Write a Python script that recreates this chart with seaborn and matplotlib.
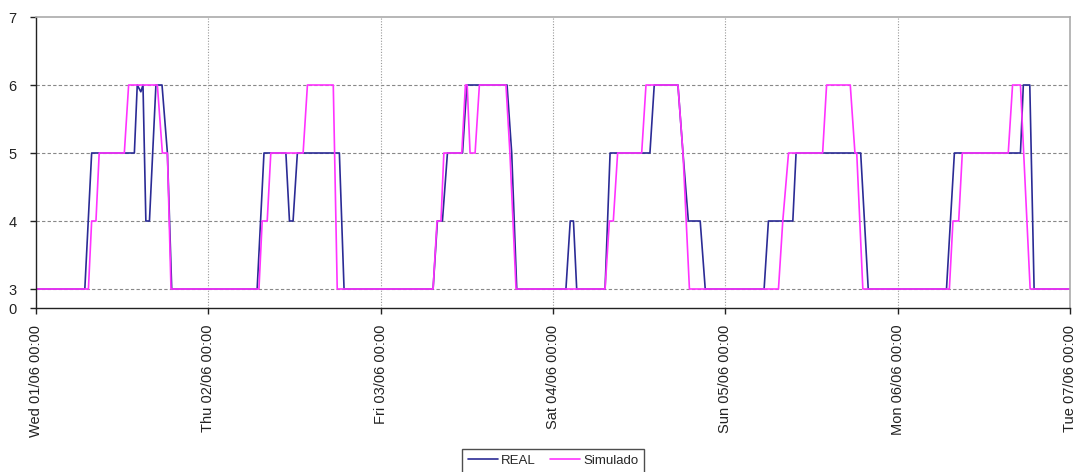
import pandas as pd
import matplotlib
matplotlib.use("Agg")
import matplotlib.pyplot as plt
import seaborn as sns

# horas desde Wed 01/06 00:00 e nivel
horas_real = [0, 6.8, 7.75, 13.7, 14.1, 14.6, 14.9, 15.3, 15.8, 16.7, 17.55, 18.3, 18.9,
              30.8, 31.75, 34.8, 35.3, 35.8, 36.4, 42.25, 42.9,
              55.3, 55.9, 56.6, 57.3, 59.4, 60.0, 65.6, 66.25, 66.95,
              73.8, 74.4, 74.85, 75.3, 79.25, 79.95, 85.5, 86.1, 89.4, 90.1, 90.85, 92.5, 93.2,
              101.4, 102.0, 105.4, 105.85, 114.85, 115.9,
              126.8, 127.9, 137.1, 137.5, 138.4, 139.0, 144]
nivel_real = [3, 3, 5, 5, 6, 5.9, 6, 4, 4, 6, 6, 5, 3,
              3, 5, 5, 4, 4, 5, 5, 3,
              3, 4, 4, 5, 5, 6, 6, 5, 3,
              3, 4, 4, 3, 3, 5, 5, 6, 6, 5, 4, 4, 3,
              3, 4, 4, 5, 5, 3,
              3, 5, 5, 6, 6, 3, 3]

horas_sim = [0, 7.3, 7.75, 8.35, 8.8, 12.3, 12.9, 16.9, 17.6, 18.3, 18.8,
             31.05, 31.5, 32.2, 32.7, 37.2, 37.8, 41.4, 41.95,
             55.3, 55.85, 56.4, 56.8, 59.3, 59.8, 60.05, 60.45, 61.15, 61.75, 65.45, 66.0, 66.85,
             79.25, 79.85, 80.4, 81.0, 84.35, 84.95, 89.4, 90.1, 91.0,
             103.4, 104.0, 104.8, 109.55, 110.1, 113.4, 114.05, 114.3, 115.15,
             127.2, 127.7, 128.5, 129.0, 135.4, 136.0, 137.1, 138.45, 144]
nivel_sim = [3, 3, 4, 4, 5, 5, 6, 6, 5, 5, 3,
             3, 4, 4, 5, 5, 6, 6, 3,
             3, 4, 4, 5, 5, 6, 6, 5, 5, 6, 6, 5, 3,
             3, 4, 4, 5, 5, 6, 6, 5, 3,
             3, 4, 5, 5, 6, 6, 5, 5, 3,
             3, 4, 4, 5, 5, 6, 6, 3, 3]

dias = ["Wed 01/06 00:00", "Thu 02/06 00:00", "Fri 03/06 00:00", "Sat 04/06 00:00",
        "Sun 05/06 00:00", "Mon 06/06 00:00", "Tue 07/06 00:00"]
ticks_y = [3, 4, 5, 6, 7]

dados = pd.concat([
    pd.DataFrame({"hora": horas_real, "nivel": nivel_real, "serie": "REAL"}),
    pd.DataFrame({"hora": horas_sim, "nivel": nivel_sim, "serie": "Simulado"}),
])

sns.set_style("white")
plt.rcParams["font.family"] = ["Liberation Sans", "DejaVu Sans"]

fig = plt.figure(figsize=(10.76, 4.72), dpi=100)
ax = fig.add_axes([36 / 1076, 1 - 308 / 472, (1070 - 36) / 1076, (308 - 17) / 472])

cores = {"REAL": "#2b2b95", "Simulado": "#ff33ff"}
sns.lineplot(data=dados, x="hora", y="nivel", hue="serie", palette=cores,
             estimator=None, sort=False, linewidth=1.2, ax=ax, legend=False)

# eixo y comeca em 0 mas com o trecho 0-3 comprimido (como no Excel)
y0 = 3 - 19 / 68
ax.set_ylim(y0, 7)
ax.set_yticks([y0] + ticks_y)
ax.set_yticklabels(["0"] + [str(v) for v in ticks_y])
ax.set_xlim(0, 144)
ax.set_xticks([24 * i for i in range(len(dias))])
ax.set_xticklabels(dias, rotation=90, va="top", ha="center")
ax.set_xlabel("")
ax.set_ylabel("")

for v in [3, 4, 5, 6]:
    ax.axhline(v, color="#888888", linestyle=(0, (3, 2)), linewidth=0.8, zorder=0)
for d in range(1, 6):
    ax.axvline(24 * d, color="#999999", linestyle=(0, (1, 1.5)), linewidth=0.8, zorder=0)

for lado in ["left", "bottom"]:
    ax.spines[lado].set_color("#222222")
    ax.spines[lado].set_linewidth(1.0)
for lado in ["top", "right"]:
    ax.spines[lado].set_color("#aaaaaa")
    ax.spines[lado].set_linewidth(1.2)

ax.tick_params(axis="both", direction="out", length=4, width=1, color="#222222",
               labelsize=10.5, labelcolor="#222222", left=True, bottom=True)
ax.tick_params(axis="y", pad=10)
ax.tick_params(axis="x", pad=8)

handles = [plt.Line2D([], [], color=cores["REAL"], linewidth=1.2),
           plt.Line2D([], [], color=cores["Simulado"], linewidth=1.2)]
leg = fig.legend(handles, ["REAL", "Simulado"], loc="upper center",
                 bbox_to_anchor=(553 / 1076, 1 - 442 / 472), ncol=2, fontsize=9.5,
                 frameon=True, fancybox=False, edgecolor="#222222", handlelength=2.3,
                 handletextpad=0.2, columnspacing=1.1, borderpad=0.45)
leg.get_frame().set_linewidth(1.0)

fig.savefig("out.png", dpi=100)
